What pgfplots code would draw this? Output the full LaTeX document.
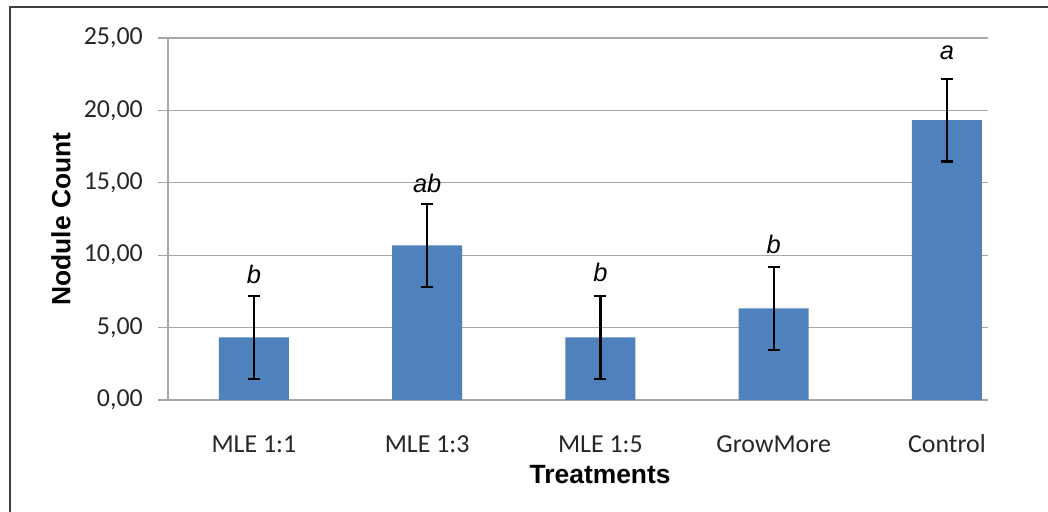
\documentclass[border=0pt]{standalone}
\usepackage{fontspec}
\setmainfont{Carlito}
\newfontfamily\arial{Liberation Sans}
\usepackage{pgfplots}
\pgfplotsset{compat=1.18}
\definecolor{barblue}{HTML}{4F81BD}
\definecolor{gridgray}{HTML}{A8A8A8}
\pgfplotstableread{
x y e
0 4.33 2.86
1 10.67 2.86
2 4.33 2.86
3 6.33 2.86
4 19.33 2.86
}\bars
\pgfplotstableread{
x y lab
0 8.70 b
1 14.94 ab
2 8.81 b
3 10.73 b
4 23.96 a
}\letters
\begin{document}
\begin{tikzpicture}[x=1bp,y=1bp]
\useasboundingbox (-168,-112) rectangle (880,400);
\draw[line width=1.3bp, color=black!75] (-158,-130) -- (-158,393) -- (900,393);
\begin{axis}[at={(0,0)}, anchor=south west, scale only axis,
  width=820bp, height=362bp,
  xmin=-0.496, xmax=4.237, ymin=0, ymax=25,
  ytick={0,5,...,25},
  xtick={0,...,4},
  xticklabels={MLE 1:1, MLE 1:3, MLE 1:5, GrowMore, Control},
  axis x line*=bottom, axis y line*=left,
  axis line style={gridgray, line width=1.3bp},
  ymajorgrids, major grid style={gridgray, line width=1.3bp},
  tick align=outside, major tick length=10bp,
  ytick style={gridgray, line width=1.3bp},
  xtick style={draw=none},
  tick label style={font=\fontsize{26}{30}\selectfont, color=black!85},
  /pgf/number format/.cd, fixed, fixed zerofill, precision=2, use comma, assume math mode=true,
  /pgfplots/.cd,
  yticklabel style={anchor=east, inner sep=0pt, xshift=-15bp},
  xticklabel style={anchor=base, inner sep=0pt, yshift=-43bp},
  ylabel={Nodule Count}, xlabel={Treatments},
  every axis y label/.style={at={(axis description cs:-0.1305,0.5)}, rotate=90, anchor=center,
    font=\arial\bfseries\fontsize{26.5}{30}\selectfont},
  every axis x label/.style={at={(axis description cs:0.527,-0.205)}, anchor=center,
    font=\arial\bfseries\fontsize{26.5}{30}\selectfont},
  clip=false,
]
\addplot[ybar, bar width=70bp, fill=barblue, draw=none,
  error bars/.cd, y dir=both, y explicit,
  error bar style={black, line width=2.3bp},
  error mark options={rotate=90, black, mark size=6bp, line width=2.3bp}]
  table[x=x, y=y, y error=e] {\bars};
\addplot[draw=none, mark=none, nodes near coords, point meta=explicit symbolic,
  nodes near coords align=center,
  every node near coord/.append style={font=\arial\itshape\fontsize{25.5}{30}\selectfont, black, inner sep=0pt}]
  table[x=x, y=y, meta=lab] {\letters};
\end{axis}
\end{tikzpicture}
\end{document}
